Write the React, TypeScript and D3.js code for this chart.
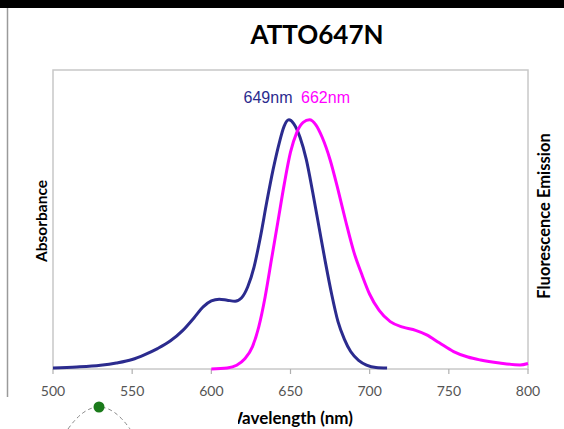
import React from "react";
import * as d3 from "d3";

const xTicks = [500, 550, 600, 650, 700, 750, 800];
const absWl = [500, 515, 530, 540, 550, 558, 566, 574, 582, 589, 595, 600, 605, 610, 615, 619, 623, 627, 631, 635, 639, 643, 646, 649, 652, 656, 660, 664, 668, 672, 676, 680, 684, 688, 693, 698, 704, 711];
const absVal = [0.004, 0.008, 0.015, 0.024, 0.038, 0.058, 0.082, 0.112, 0.155, 0.205, 0.25, 0.273, 0.28, 0.276, 0.272, 0.285, 0.33, 0.41, 0.53, 0.67, 0.8, 0.91, 0.975, 1.0, 0.985, 0.93, 0.84, 0.71, 0.57, 0.43, 0.3, 0.19, 0.12, 0.07, 0.035, 0.016, 0.006, 0.004];
const emWl = [600, 610, 616, 621, 626, 630, 634, 638, 642, 646, 650, 654, 658, 662, 666, 670, 675, 680, 685, 690, 695, 700, 706, 713, 721, 729, 736, 744, 753, 762, 770, 782, 795, 800];
const emVal = [0.0, 0.004, 0.015, 0.04, 0.09, 0.17, 0.29, 0.44, 0.59, 0.74, 0.87, 0.95, 0.99, 1.0, 0.98, 0.93, 0.84, 0.72, 0.59, 0.47, 0.38, 0.3, 0.235, 0.19, 0.168, 0.155, 0.137, 0.105, 0.07, 0.048, 0.036, 0.024, 0.016, 0.022];
const peakLabels = ["649nm", "662nm"];

const W = 564, H = 429;
const L = 53, R = 528, T = 70, B = 369;

export default function App() {
  const x = d3.scaleLinear().domain([500, 800]).range([L, R]);
  const y = d3.scaleLinear().domain([0, 1.2]).range([B, T]);
  const line = d3.line<[number, number]>().x(d => x(d[0])).y(d => y(d[1])).curve(d3.curveMonotoneX);
  const absPts = absWl.map((w, i) => [w, absVal[i]] as [number, number]);
  const emPts = emWl.map((w, i) => [w, emVal[i]] as [number, number]);
  const font = "Lato, 'Open Sans', sans-serif";
  const blue = "#2b2b8e";
  const mag = "#ff00ff";
  return (
    <svg width={W} height={H} style={{ position: "absolute", left: 0, top: 0, background: "#fff" }}>
      <defs>
        <clipPath id="xt"><rect x={238} y={395} width={300} height={34} /></clipPath>
      </defs>
      <rect x={0} y={0} width={W} height={8} fill="#000" />
      <line x1={7.5} x2={7.5} y1={8} y2={397} stroke="#9a9a9a" strokeWidth={1.5} />
      <text x={317} y={44} textAnchor="middle" fontFamily={font} fontWeight="bold" fontSize={26} fill="#000">ATTO647N</text>
      <rect x={L} y={T} width={R - L} height={B - T} fill="none" stroke="#c8c8c8" strokeWidth={1.5} />
      {xTicks.map(t => (
        <g key={t}>
          <line x1={x(t)} x2={x(t)} y1={B} y2={B + 5} stroke="#b0b0b0" strokeWidth={1.2} />
          <text x={x(t)} y={396} textAnchor="middle" fontFamily={font} fontSize={14} fill="#555">{t}</text>
        </g>
      ))}
      <path d={line(absPts) || ""} fill="none" stroke={blue} strokeWidth={3} />
      <path d={line(emPts) || ""} fill="none" stroke={mag} strokeWidth={3} />
      <text x={268} y={103} textAnchor="middle" fontFamily="'Liberation Sans', Arial, sans-serif" fontSize={16} fill={blue}>{peakLabels[0]}</text>
      <text x={325.5} y={103} textAnchor="middle" fontFamily="'Liberation Sans', Arial, sans-serif" fontSize={16} fill={mag}>{peakLabels[1]}</text>
      <text transform={`translate(47,221) rotate(-90)`} textAnchor="middle" fontFamily={font} fontWeight="bold" fontSize={15.5} fill="#000">Absorbance</text>
      <text transform={`translate(550,216) rotate(-90)`} textAnchor="middle" fontFamily={font} fontWeight="bold" fontSize={16.5} fill="#000">Fluorescence Emission</text>
      <g clipPath="url(#xt)">
        <text x={353} y={424} textAnchor="end" fontFamily={font} fontWeight="bold" fontSize={17} fill="#000">Wavelength (nm)</text>
      </g>
      <path d="M 68 429 Q 99 385 130 429" fill="none" stroke="#888" strokeWidth={1} strokeDasharray="4,3" />
      <circle cx={99} cy={407} r={5.5} fill="#1a7a1a" />
    </svg>
  );
}
